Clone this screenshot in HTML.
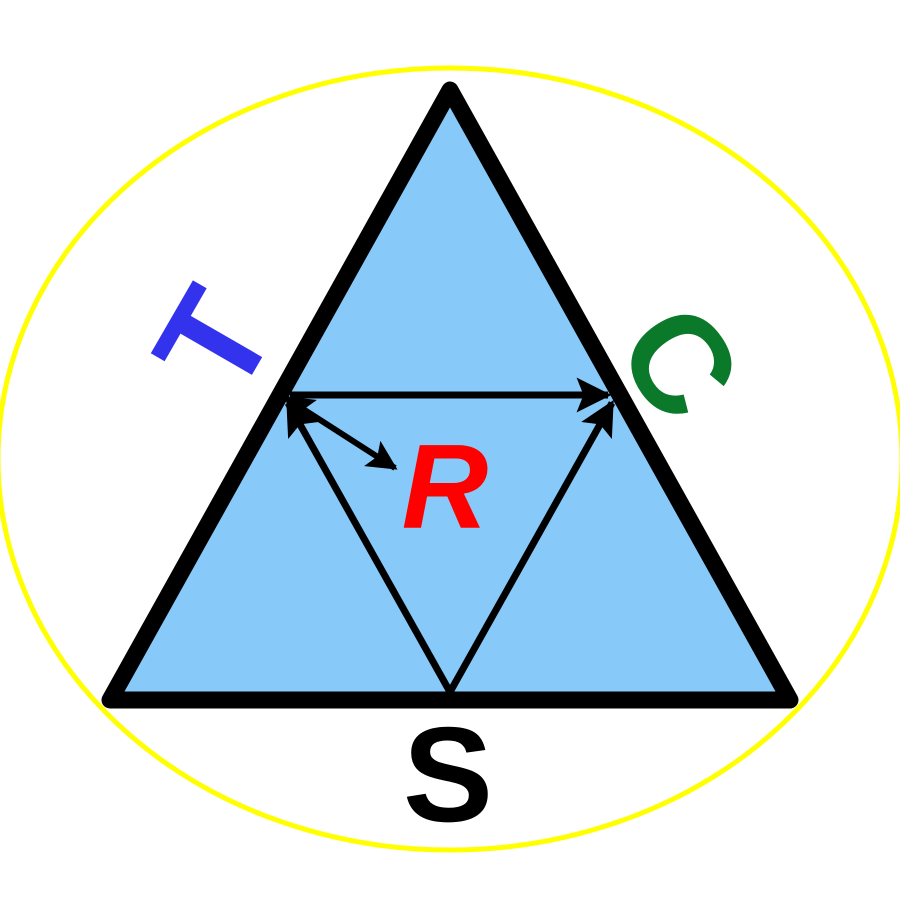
<!DOCTYPE html>
<html><head><style>html,body{margin:0;padding:0;background:#fff}</style></head>
<body>
<svg width="900" height="900" viewBox="0 0 900 900" xmlns="http://www.w3.org/2000/svg">
<defs>
<marker id="ah" viewBox="0 0 10 10" refX="9" refY="5" markerWidth="5" markerHeight="5" orient="auto-start-reverse" markerUnits="strokeWidth">
<path d="M0,0 L10,5 L0,10 L2,5 z" fill="#000"/>
</marker>
</defs>
<ellipse cx="450" cy="459" rx="452" ry="391" fill="none" stroke="#ffff00" stroke-width="5"/>
<polygon points="450,90 110,700 790,700" fill="#87cafa" stroke="#000" stroke-width="17" stroke-linejoin="round"/>
<line x1="290" y1="395" x2="608" y2="395" stroke="#000" stroke-width="7" marker-end="url(#ah)"/>
<line x1="450" y1="692" x2="288" y2="403" stroke="#000" stroke-width="7" marker-end="url(#ah)"/>
<line x1="450" y1="692" x2="612" y2="403" stroke="#000" stroke-width="7" marker-end="url(#ah)"/>
<line x1="286" y1="398" x2="395" y2="468" stroke="#000" stroke-width="6" marker-start="url(#ah)" marker-end="url(#ah)"/>
<text x="445" y="528" font-family="Liberation Sans, sans-serif" font-weight="bold" font-style="italic" font-size="120" fill="#ff0000" text-anchor="middle">R</text>
<text x="448" y="821" font-family="Liberation Sans, sans-serif" font-weight="bold" font-size="135" fill="#000" text-anchor="middle">S</text>
<text transform="translate(212,340) rotate(-60)" y="52" font-family="Liberation Sans, sans-serif" font-weight="bold" font-size="143" fill="#3333ee" text-anchor="middle">T</text>
<text transform="translate(680,362) rotate(55)" y="48" font-family="Liberation Sans, sans-serif" font-weight="bold" font-size="138" fill="#0a7a2a" text-anchor="middle">C</text>
</svg>
</body></html>
